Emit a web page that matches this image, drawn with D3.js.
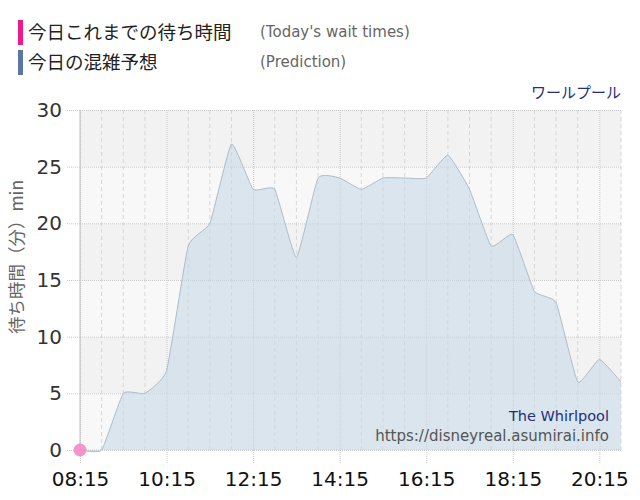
<!DOCTYPE html>
<html><head><meta charset="utf-8">
<script src="https://cdn.jsdelivr.net/npm/d3@7"></script>
<style>
html,body{margin:0;padding:0;background:#fff;}
svg{display:block;font-family:Verdana,"DejaVu Sans","Noto Sans CJK JP",sans-serif;}
.jp{font-family:"Noto Sans CJK JP","DejaVu Sans",sans-serif;}
</style></head>
<body><svg id="c" width="640" height="500"></svg>
<script>
// ---- data ----
const times = ["08:15","08:45","09:15","09:45","10:15","10:45","11:15","11:45","12:15","12:45","13:15","13:45","14:15","14:45","15:15","15:45","16:15","16:45","17:15","17:45","18:15","18:45","19:15","19:45","20:15","20:45"];
const prediction = [0,0,5,5,7,18,20,27,23,23,17,24,24,23,24,24,24,26,23,18,19,14,13,6,8,6];
const todayTimes = ["08:15"];
const todayValues = [0];
const xTickLabels = ["08:15","10:15","12:15","14:15","16:15","18:15","20:15"];
const yTicks = [0,5,10,15,20,25,30];
const legendItems = ["今日これまでの待ち時間","今日の混雑予想"];
const legendSubs = ["(Today's wait times)","(Prediction)"];
const title = "ワールプール";
const yTitle = "待ち時間（分）min";
const credits = ["The Whirlpool","https://disneyreal.asumirai.info"];

const toMin = s => { const [h,m] = s.split(":").map(Number); return h*60+m; };
const curve = d3.curveCardinal.tension(0.6);

const svg = d3.select("#c");
const L = 80, R = 621, T = 110, B = 450;
const x = d3.scaleLinear().domain([toMin("08:15"), toMin("20:45")]).range([L, R]);
const y = d3.scaleLinear().domain([0, 30]).range([B, T]);

// background bands
const bands = d3.range(0, 30, 5);
svg.append("g").selectAll("rect").data(bands).join("rect")
  .attr("x", L).attr("width", R - L)
  .attr("y", d => y(d + 5)).attr("height", d => y(d) - y(d + 5))
  .attr("fill", (d, i) => i % 2 === 0 ? "#f8f8f8" : "#f2f2f2");

// minor vertical gridlines every 30 minutes
const minor = d3.range(toMin("08:15"), toMin("20:45") + 1, 30).filter(m => (m - toMin("08:15")) % 120 !== 0);
svg.append("g").selectAll("line").data(minor).join("line")
  .attr("x1", d => x(d)).attr("x2", d => x(d)).attr("y1", T).attr("y2", B)
  .attr("stroke", "#d6d6d6").attr("stroke-dasharray", "4,3").attr("stroke-width", 1);

// horizontal gridlines via axis
const yAxis = svg.append("g").attr("transform", `translate(${L},0)`)
  .call(d3.axisLeft(y).tickValues(yTicks).tickSize(14).tickPadding(4));
yAxis.select(".domain").remove();
yAxis.selectAll(".tick line").clone().attr("x1", 0).attr("x2", R - L);
yAxis.selectAll(".tick line").attr("stroke", "#c8c8c8").attr("stroke-dasharray", "1,1");
yAxis.selectAll(".tick text").attr("font-size", 20).attr("fill", "#333")
  .attr("font-family", "Verdana,'DejaVu Sans',sans-serif");

// x axis with major gridlines
const xAxis = svg.append("g").attr("transform", `translate(0,${B})`)
  .call(d3.axisBottom(x).tickValues(xTickLabels.map(toMin)).tickFormat((d, i) => xTickLabels[i]).tickSize(14).tickPadding(8));
xAxis.select(".domain").remove();
xAxis.selectAll(".tick line").attr("y1", T - B).attr("y2", 14)
  .attr("stroke", "#c8c8c8").attr("stroke-dasharray", "1,1");
xAxis.selectAll(".tick text").attr("font-size", 20).attr("fill", "#111")
  .attr("font-family", "Verdana,'DejaVu Sans',sans-serif");

// area
const area = d3.area()
  .x((d, i) => x(toMin(times[i])))
  .y0(y(0))
  .y1(d => y(d))
  .curve(curve);
const line = d3.line()
  .x((d, i) => x(toMin(times[i])))
  .y(d => y(d))
  .curve(curve);
svg.append("path").datum(prediction).attr("d", area)
  .attr("fill", "#c7d8e6").attr("fill-opacity", 0.6);
svg.append("path").datum(prediction).attr("d", line)
  .attr("fill", "none").attr("stroke", "#aebdca").attr("stroke-width", 1);

// axis lines
svg.append("line").attr("x1", L).attr("x2", L).attr("y1", T).attr("y2", B)
  .attr("stroke", "#c0c0c0");
svg.append("line").attr("x1", L).attr("x2", R).attr("y1", B).attr("y2", B)
  .attr("stroke", "#c8c8c8").attr("stroke-dasharray", "1,1");

// today's points
svg.append("g").selectAll("circle").data(todayValues).join("circle")
  .attr("cx", (d, i) => x(toMin(todayTimes[i]))).attr("cy", d => y(d)).attr("r", 6.5)
  .attr("fill", "#f58ac6").attr("fill-opacity", 0.9);

// legend
const legColors = ["#f0198c", "#5a76a3"];
const leg = svg.append("g");
legendItems.forEach((t, i) => {
  const yy = 20 + i * 30;
  leg.append("rect").attr("x", 18).attr("y", yy).attr("width", 5).attr("height", 25).attr("fill", legColors[i]);
  leg.append("text").attr("class", "jp").attr("x", 28).attr("y", yy + 19).attr("font-size", 18.5)
    .attr("fill", "#222").text(t);
  leg.append("text").attr("x", 260).attr("y", yy + 17).attr("font-size", 15)
    .attr("fill", "#666").text(legendSubs[i]);
});

// title
svg.append("text").attr("class", "jp").attr("x", R).attr("y", 98).attr("text-anchor", "end")
  .attr("font-size", 15).attr("fill", "#22307a").text(title);

// y title
svg.append("text").attr("class", "jp").attr("transform", "translate(23,257) rotate(-90)")
  .attr("text-anchor", "middle").attr("font-size", 17.5).attr("fill", "#666").text(yTitle);

// credits
svg.append("text").attr("x", 609).attr("y", 421).attr("text-anchor", "end")
  .attr("font-size", 14.5).attr("fill", "#22307a").text(credits[0]);
svg.append("text").attr("x", 609).attr("y", 441).attr("text-anchor", "end")
  .attr("font-size", 15).attr("fill", "#555").text(credits[1]);
</script></body></html>
